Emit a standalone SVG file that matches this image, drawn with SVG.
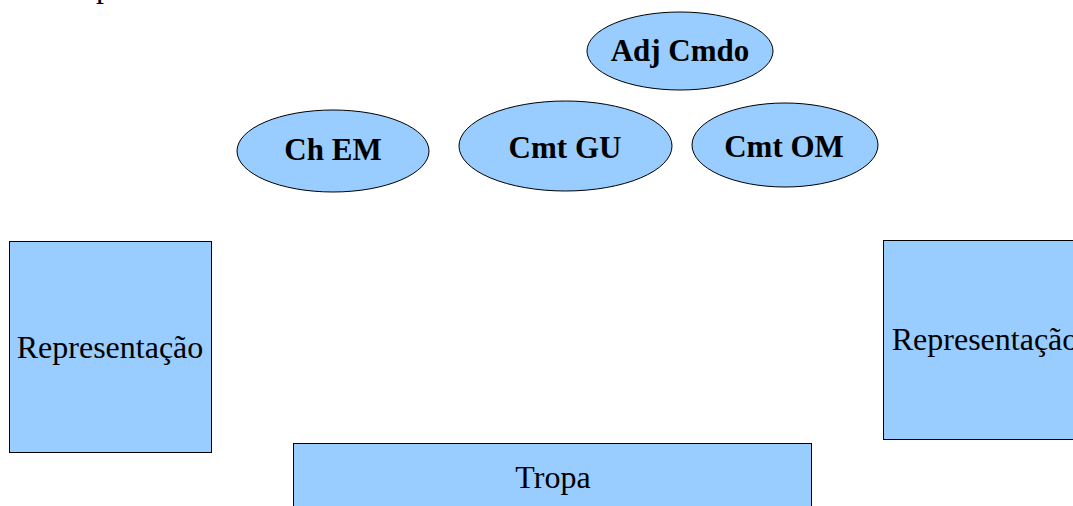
<svg xmlns="http://www.w3.org/2000/svg" width="1073" height="506" viewBox="0 0 1073 506">
  <style>
    .shape { fill: #99ccff; stroke: #000; stroke-width: 1; }
    .bold { font-family: "Liberation Serif", "Times New Roman", serif; font-weight: bold; font-size: 31px; fill: #000; text-anchor: middle; }
    .reg { font-family: "Liberation Serif", "Times New Roman", serif; font-size: 32px; fill: #000; text-anchor: middle; }
  </style>
  <rect width="1073" height="506" fill="#fff"/>
  <text x="96" y="-3" font-family="Liberation Serif, serif" font-size="32" fill="#000">p</text>
  <g id="connectors"></g>
  <g id="adj-cmdo">
    <ellipse class="shape" cx="680" cy="51" rx="93" ry="39"/>
    <text class="bold" x="680" y="61">Adj Cmdo</text>
  </g>
  <g id="ch-em">
    <ellipse class="shape" cx="333" cy="151" rx="96" ry="41"/>
    <text class="bold" x="333" y="160">Ch EM</text>
  </g>
  <g id="cmt-gu">
    <ellipse class="shape" cx="565.5" cy="146" rx="106.5" ry="45"/>
    <text class="bold" x="565" y="158">Cmt GU</text>
  </g>
  <g id="cmt-om">
    <ellipse class="shape" cx="785" cy="145" rx="93" ry="42"/>
    <text class="bold" x="784" y="157">Cmt OM</text>
  </g>
  <g id="representacao-left">
    <rect class="shape" x="9.5" y="241.5" width="202" height="211"/>
    <text class="reg" x="110" y="358">Representação</text>
  </g>
  <g id="representacao-right">
    <rect class="shape" x="883.5" y="240.5" width="203" height="199"/>
    <text class="reg" x="985" y="350">Representação</text>
  </g>
  <g id="tropa">
    <rect class="shape" x="293.5" y="443.5" width="518" height="80"/>
    <text class="reg" x="553" y="488">Tropa</text>
  </g>
</svg>
